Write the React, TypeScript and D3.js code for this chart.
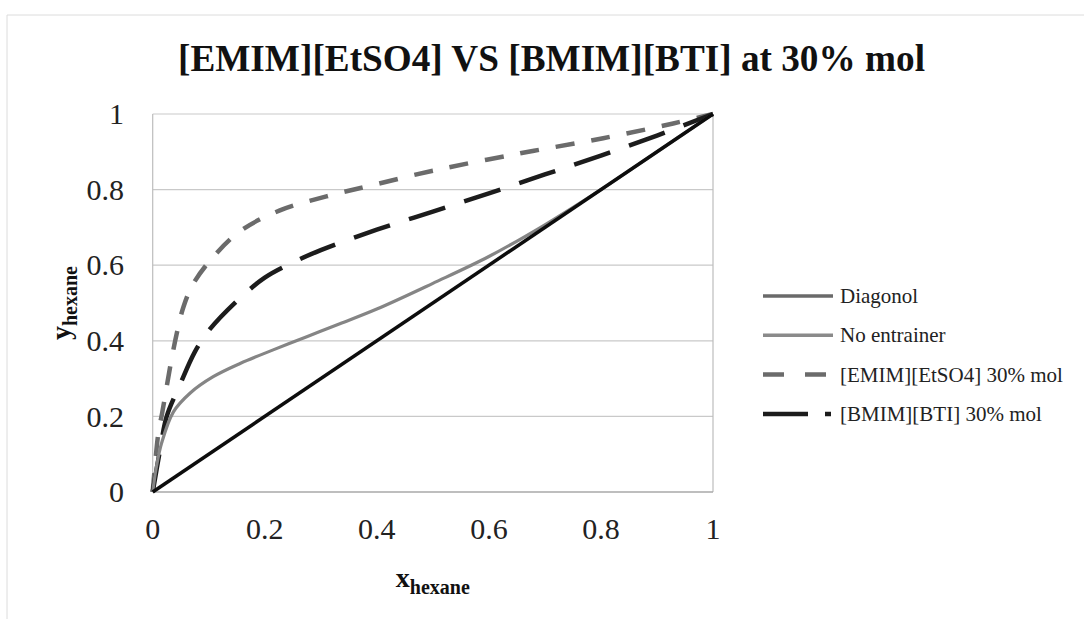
import React from "react";
import * as d3 from "d3";

const TITLE = "[EMIM][EtSO4] VS [BMIM][BTI] at 30% mol";
const SERIES_NAMES = ["Diagonol", "No entrainer", "[EMIM][EtSO4] 30% mol", "[BMIM][BTI] 30% mol"];

const X_TICKS = [0, 0.2, 0.4, 0.6, 0.8, 1];
const Y_TICKS = [0, 0.2, 0.4, 0.6, 0.8, 1];

const diagX = [0, 1];
const diagY = [0, 1];

const noEntX = [0, 0.007, 0.016, 0.037, 0.067, 0.108, 0.156, 0.215, 0.275, 0.334, 0.4, 0.5, 0.6, 0.7, 0.8, 0.9, 1];
const noEntY = [0, 0.07, 0.13, 0.212, 0.262, 0.305, 0.34, 0.376, 0.411, 0.445, 0.484, 0.552, 0.623, 0.707, 0.8, 0.9, 1];

const emimX = [0, 0.01, 0.017, 0.031, 0.043, 0.055, 0.072, 0.108, 0.156, 0.227, 0.31, 0.393, 0.5, 0.656, 0.804, 0.929, 1];
const emimY = [0, 0.155, 0.21, 0.33, 0.42, 0.49, 0.55, 0.622, 0.69, 0.745, 0.782, 0.812, 0.85, 0.896, 0.936, 0.975, 1];

const bmimX = [0, 0.013, 0.025, 0.049, 0.075, 0.1, 0.15, 0.2, 0.25, 0.3, 0.4, 0.5, 0.6, 0.7, 0.8, 0.9, 1];
const bmimY = [0, 0.11, 0.2, 0.285, 0.37, 0.427, 0.505, 0.567, 0.607, 0.64, 0.694, 0.742, 0.79, 0.84, 0.89, 0.943, 1];

const W = 1084;
const H = 619;
const PL = 152.7, PR = 713, PT = 114, PB = 492;
const FONT = "'Liberation Serif', 'Times New Roman', serif";

export default function App() {
  const x = d3.scaleLinear().domain([0, 1]).range([PL, PR]);
  const y = d3.scaleLinear().domain([0, 1]).range([PB, PT]);
  const line = d3
    .line<[number, number]>()
    .x((d) => x(d[0]))
    .y((d) => y(d[1]))
    .curve(d3.curveCatmullRom.alpha(0.5));
  const zip = (a: number[], b: number[]) => a.map((v, i) => [v, b[i]] as [number, number]);

  const series = [
    { name: SERIES_NAMES[0], d: zip(diagX, diagY), color: "#0d0d0d", w: 3.5, dash: "", lcolor: "#6a6a6a", ldash: "" },
    { name: SERIES_NAMES[1], d: zip(noEntX, noEntY), color: "#858585", w: 3.2, dash: "", lcolor: "#8a8a8a", ldash: "" },
    { name: SERIES_NAMES[2], d: zip(emimX, emimY), color: "#6b6b6b", w: 4.5, dash: "19 17", lcolor: "#6b6b6b", ldash: "21 21" },
    { name: SERIES_NAMES[3], d: zip(bmimX, bmimY), color: "#1c1c1c", w: 4.5, dash: "38 20", lcolor: "#1c1c1c", ldash: "45 17 6 30" },
  ];
  const drawOrder = [2, 3, 1, 0];

  return (
    <svg
      width={W}
      height={H}
      style={{ position: "absolute", left: 0, top: 0, background: "#fff" }}
      fontFamily={FONT}
    >
      <rect x={0} y={0} width={W} height={H} fill="#fff" />
      <line x1={7} y1={15} x2={W} y2={15} stroke="#dcdcdc" strokeWidth={1} />
      <line x1={7} y1={15} x2={7} y2={H} stroke="#dcdcdc" strokeWidth={1} />

      <text
        x={551.5}
        y={71}
        textAnchor="middle"
        fontSize={37}
        fontWeight="bold"
        fill="#111"
        textLength={747}
        lengthAdjust="spacingAndGlyphs"
      >
        {TITLE}
      </text>

      {Y_TICKS.filter((t) => t > 0).map((t) => (
        <line key={"g" + t} x1={PL} x2={PR} y1={y(t)} y2={y(t)} stroke="#c9c9c9" strokeWidth={1.2} />
      ))}
      <line x1={PL} x2={PL} y1={PT} y2={PB} stroke="#bdbdbd" strokeWidth={1.2} />
      <line x1={PR} x2={PR} y1={PT} y2={PB} stroke="#bdbdbd" strokeWidth={1.2} />
      <line x1={PL} x2={PR} y1={PB} y2={PB} stroke="#a8a8a8" strokeWidth={1.4} />

      {Y_TICKS.map((t) => (
        <text key={"yt" + t} x={124} y={y(t)} dy="0.34em" textAnchor="end" fontSize={30} fill="#222">
          {d3.format("~g")(t)}
        </text>
      ))}
      {X_TICKS.map((t) => (
        <text key={"xt" + t} x={x(t)} y={539} textAnchor="middle" fontSize={30} fill="#222">
          {d3.format("~g")(t)}
        </text>
      ))}

      <text x={(PL + PR) / 2} y={587} textAnchor="middle" fontWeight="bold" fill="#111">
        <tspan fontSize={28}>x</tspan>
        <tspan fontSize={20} dy={7}>hexane</tspan>
      </text>
      <text
        transform={`translate(70, ${(PT + PB) / 2}) rotate(-90)`}
        textAnchor="middle"
        fontWeight="bold"
        fill="#111"
      >
        <tspan fontSize={28}>y</tspan>
        <tspan fontSize={20} dy={7}>hexane</tspan>
      </text>

      <g>
        {drawOrder.map((i) => {
          const s = series[i];
          return (
            <path
              key={s.name}
              d={line(s.d) || ""}
              fill="none"
              stroke={s.color}
              strokeWidth={s.w}
              strokeDasharray={s.dash || undefined}
              strokeLinejoin="round"
            />
          );
        })}
      </g>

      <g>
        {series.map((s, i) => {
          const ly = 296 + i * 39.3;
          return (
            <g key={"lg" + i}>
              <line
                x1={763}
                x2={833}
                y1={ly}
                y2={ly}
                stroke={s.lcolor}
                strokeWidth={i >= 2 ? 4.5 : 3.5}
                strokeDasharray={s.ldash || undefined}
              />
              <text x={840} y={ly} dy="0.34em" fontSize={21} fill="#222">
                {s.name}
              </text>
            </g>
          );
        })}
      </g>
    </svg>
  );
}
